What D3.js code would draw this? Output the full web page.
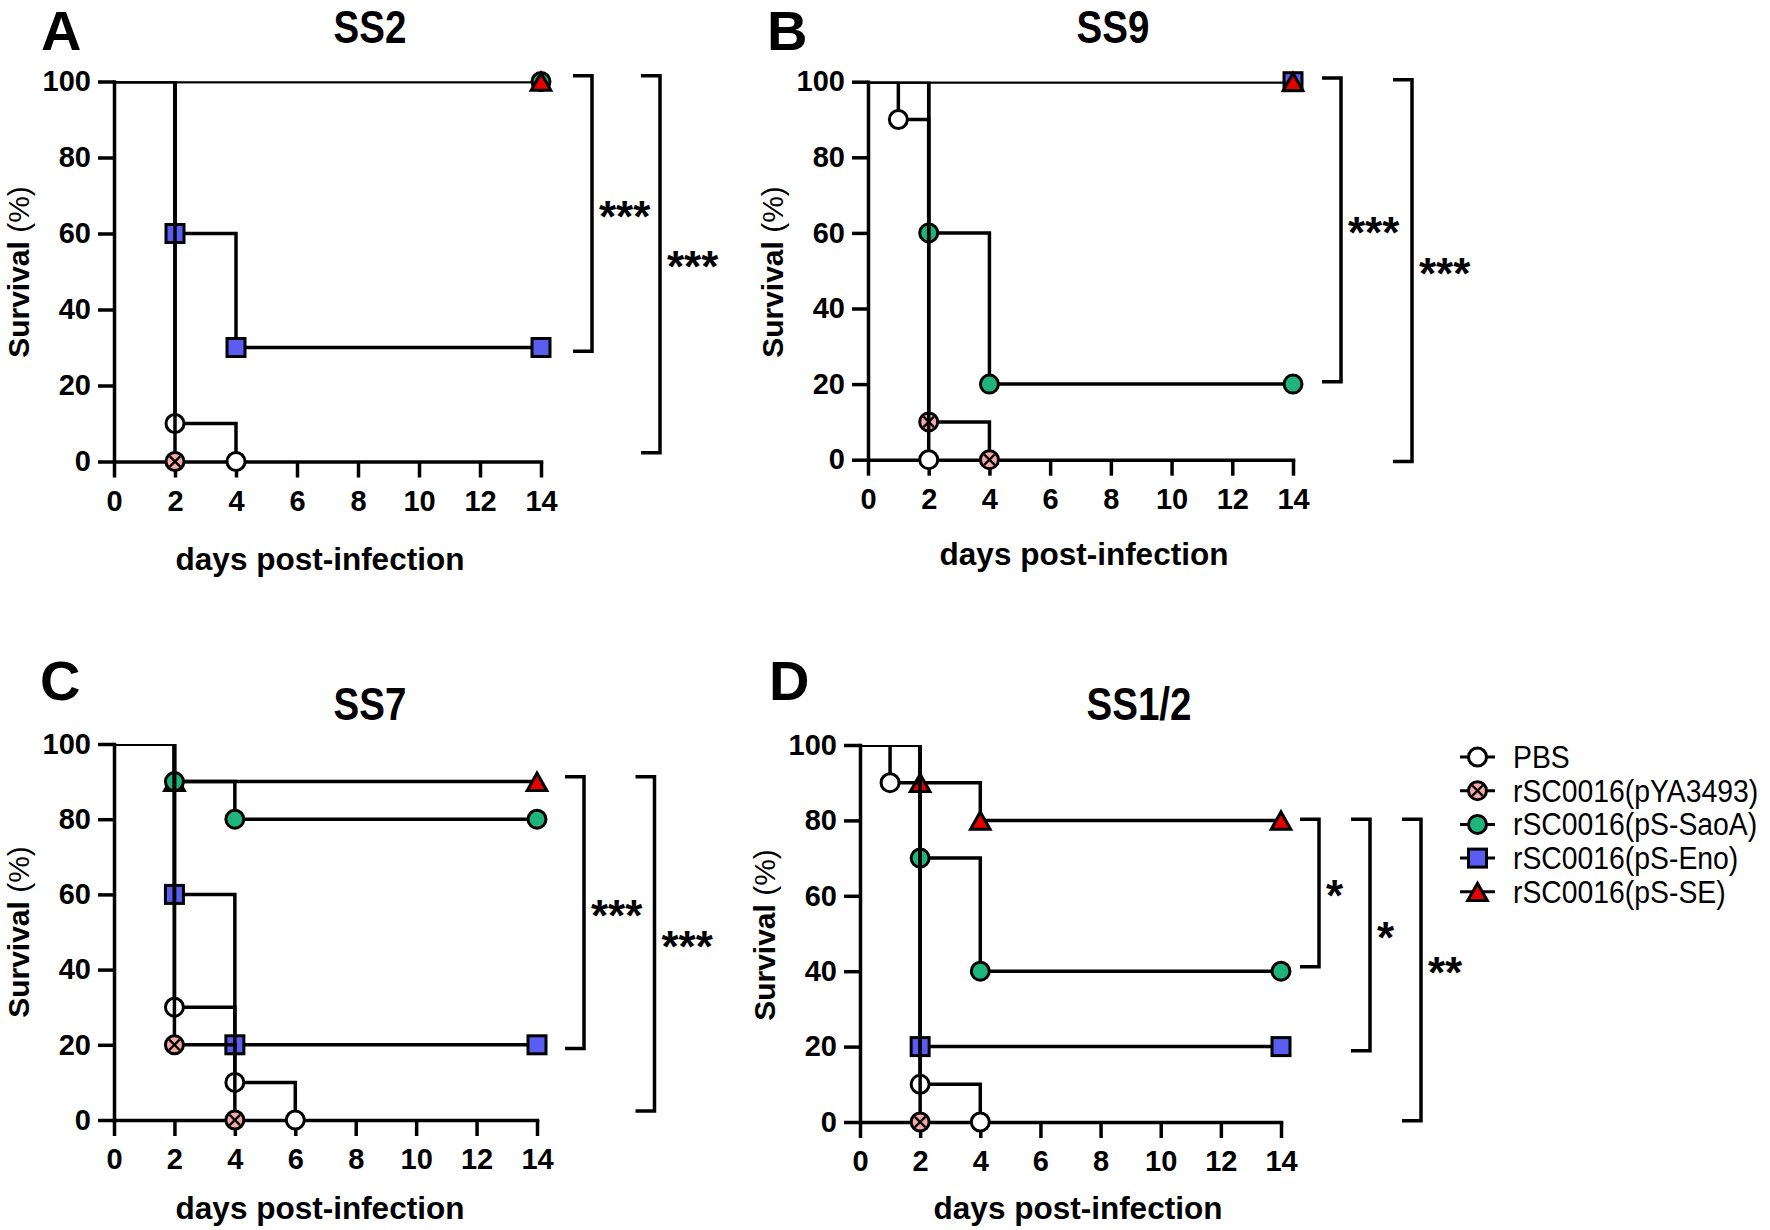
<!DOCTYPE html>
<html><head><meta charset="utf-8">
<script src="https://cdn.jsdelivr.net/npm/d3@7"></script>
<style>
body{margin:0;background:#fff;}
svg{display:block;font-family:"Liberation Sans",Arial,sans-serif;}
</style></head><body>
<svg id="chart" width="1770" height="1230"></svg>
<script>
// ---------- data ----------
const groups = ["PBS","rSC0016(pYA3493)","rSC0016(pS-SaoA)","rSC0016(pS-Eno)","rSC0016(pS-SE)"];
const markerShapes = ["circle","crossCircle","circle","square","triangle"];
const markerFills = ["#ffffff","#f4a9a3","#1db57b","#5a5cf2","#e60000"];
const dayTicks = [0,2,4,6,8,10,12,14];
const survivalTicks = [0,20,40,60,80,100];
const panelLetters = ["A","B","C","D"];
const panelTitles = ["SS2","SS9","SS7","SS1/2"];
const xLabel = "days post-infection";
const yLabel = "Survival";
const yLabelUnit = " (%)";

// [day, % survival] at each event, one list per group (order of groups)
const ss2Curves = [
  [[0,100],[2,10],[4,0]],
  [[0,100],[2,0]],
  [[0,100],[14,100]],
  [[0,100],[2,60],[4,30],[14,30]],
  [[0,100],[14,100]]
];
const ss9Curves = [
  [[0,100],[1,90],[2,0]],
  [[0,100],[2,10],[4,0]],
  [[0,100],[2,60],[4,20],[14,20]],
  [[0,100],[14,100]],
  [[0,100],[14,100]]
];
const ss7Curves = [
  [[0,100],[2,30],[4,10],[6,0]],
  [[0,100],[2,20],[4,0]],
  [[0,100],[2,90],[4,80],[14,80]],
  [[0,100],[2,60],[4,20],[14,20]],
  [[0,100],[2,90],[14,90]]
];
const ss12Curves = [
  [[0,100],[1,90],[2,10],[4,0]],
  [[0,100],[2,0]],
  [[0,100],[2,70],[4,40],[14,40]],
  [[0,100],[2,20],[14,20]],
  [[0,100],[2,90],[4,80],[14,80]]
];
// drawing order of groups in each panel
const ss2Order = [0,3,2,4,1];
const ss9Order = [3,4,2,1,0];
const ss7Order = [4,2,3,0,1];
const ss12Order = [4,2,3,0,1];
// significance brackets: [upper %, lower %, label]
const ss2Stats = [[101.5,29,"***"],[101.5,2.3,"***"]];
const ss9Stats = [[101,20.6,"***"],[100.5,-0.5,"***"]];
const ss7Stats = [[91.3,19,"***"],[91.3,2.4,"***"]];
const ss12Stats = [[80.3,41.2,"*"],[80.3,18.9,"*"],[80.3,0.3,"**"]];

// ---------- layout ----------
const panels = [
  {curves:ss2Curves, order:ss2Order, stats:ss2Stats, x0:114, x1:541, yT:81.5, yB:461.5,
   lx:41, ly:50, tx:370, ty:43, ylx:29, yly:272, xlx:320, xly:570, bx:[51,119]},
  {curves:ss9Curves, order:ss9Order, stats:ss9Stats, x0:868, x1:1293, yT:81.7, yB:459.7,
   lx:767, ly:50, tx:1113, ty:43, ylx:783, yly:272, xlx:1084, xly:565, bx:[48,119]},
  {curves:ss7Curves, order:ss7Order, stats:ss7Stats, x0:114, x1:537, yT:744, yB:1120,
   lx:40, ly:700, tx:370, ty:720, ylx:29, yly:932, xlx:320, xly:1219, bx:[47,117.5]},
  {curves:ss12Curves, order:ss12Order, stats:ss12Stats, x0:860, x1:1281, yT:745, yB:1122,
   lx:769, ly:700, tx:1139, ty:720, ylx:775, yly:935, xlx:1078, xly:1219, bx:[38,89,140]}
];

const svg = d3.select("#chart");
const LW = 3.5;

function narrowText(sel, x, y, s) {
  return sel.attr("transform", `translate(${x},${y}) scale(${s},1)`);
}

function drawMarker(g, gi, cx, cy) {
  const shape = markerShapes[gi], fill = markerFills[gi];
  if (shape === "circle" || shape === "crossCircle") {
    g.append("circle").attr("cx",cx).attr("cy",cy).attr("r",9)
      .attr("fill",fill).attr("stroke","#000").attr("stroke-width",3);
    if (shape === "crossCircle") {
      const d = 5.2;
      g.append("path").attr("d",`M${cx-d},${cy-d}L${cx+d},${cy+d}M${cx+d},${cy-d}L${cx-d},${cy+d}`)
        .attr("stroke","#000").attr("stroke-width",2.4);
    }
  } else if (shape === "square") {
    g.append("rect").attr("x",cx-9).attr("y",cy-9).attr("width",18).attr("height",18)
      .attr("fill",fill).attr("stroke","#000").attr("stroke-width",3);
  } else {
    g.append("path").attr("d",`M${cx},${cy-8.5}L${cx+9.8},${cy+8.8}L${cx-9.8},${cy+8.8}Z`)
      .attr("fill",fill).attr("stroke","#000").attr("stroke-width",3).attr("stroke-linejoin","miter");
  }
}

panels.forEach((p, pi) => {
  const x = d3.scaleLinear().domain([0,14]).range([p.x0,p.x1]);
  const y = d3.scaleLinear().domain([0,100]).range([p.yB,p.yT]);
  const g = svg.append("g");

  // letter & title
  g.append("text").attr("x",p.lx).attr("y",p.ly).text(panelLetters[pi])
    .attr("font-size",56).attr("font-weight","bold").attr("fill","#000");
  narrowText(g.append("text"), p.tx, p.ty, 0.82).attr("text-anchor","middle").text(panelTitles[pi])
    .attr("font-size",47).attr("font-weight","bold").attr("fill","#000");

  // axes
  const gx = g.append("g").attr("transform",`translate(0,${p.yB})`)
    .call(d3.axisBottom(x).tickValues(dayTicks).tickSize(16).tickSizeOuter(0).tickPadding(12.5));
  const gy = g.append("g").attr("transform",`translate(${p.x0},0)`)
    .call(d3.axisLeft(y).tickValues(survivalTicks).tickSize(16).tickSizeOuter(0).tickPadding(7));
  [gx,gy].forEach(a => {
    a.select(".domain").attr("stroke","#000").attr("stroke-width",LW).attr("stroke-linecap","square");
    a.selectAll(".tick line").attr("stroke","#000").attr("stroke-width",LW);
    a.selectAll(".tick text").attr("font-size",29).attr("font-weight","bold").attr("fill","#000")
      .attr("font-family","'Liberation Sans',Arial,sans-serif");
  });

  // axis titles
  g.append("text").attr("x",p.xlx).attr("y",p.xly).attr("text-anchor","middle").text(xLabel)
    .attr("font-size",31.5).attr("font-weight","bold").attr("fill","#000");
  const yl = g.append("text").attr("transform",`translate(${p.ylx},${p.yly}) rotate(-90)`)
    .attr("text-anchor","middle").attr("font-size",30).attr("fill","#000");
  yl.append("tspan").attr("font-weight","bold").text(yLabel);
  yl.append("tspan").attr("font-weight","normal").text(yLabelUnit);

  // clip at 100 %
  const cid = "clip" + pi;
  svg.append("clipPath").attr("id",cid).append("rect")
    .attr("x",p.x0-40).attr("y",p.yT).attr("width",p.x1-p.x0+80).attr("height",p.yB-p.yT+40);

  const line = d3.line().x(d => x(d[0])).y(d => y(d[1])).curve(d3.curveStepAfter);
  p.order.forEach(gi => {
    const pts = p.curves[gi];
    const sg = g.append("g");
    sg.append("path").attr("d",line(pts)).attr("fill","none").attr("stroke","#000")
      .attr("stroke-width",LW).attr("clip-path",`url(#${cid})`);
    pts.slice(1).forEach(d => drawMarker(sg, gi, x(d[0]), y(d[1])));
  });

  // significance brackets
  p.stats.forEach((s, si) => {
    const bx = p.x1 + p.bx[si], yt = y(s[0]), yb = y(s[1]);
    g.append("path").attr("d",`M${bx-19},${yt}H${bx}V${yb}H${bx-19}`).attr("fill","none")
      .attr("stroke","#000").attr("stroke-width",LW);
    g.append("text").attr("x",bx+7).attr("y",(yt+yb)/2+18).text(s[2])
      .attr("font-size",44).attr("font-weight","bold").attr("fill","#000");
  });
});

// legend
const lg = svg.append("g");
groups.forEach((name, gi) => {
  const cy = 757 + gi*33.7;
  lg.append("line").attr("x1",1460).attr("x2",1495).attr("y1",cy).attr("y2",cy)
    .attr("stroke","#000").attr("stroke-width",3);
  drawMarker(lg, gi, 1477.5, cy);
  narrowText(lg.append("text"), 1513, cy + 11, 0.9).text(name)
    .attr("font-size",31.5).attr("fill","#000");
});
</script>
</body></html>
